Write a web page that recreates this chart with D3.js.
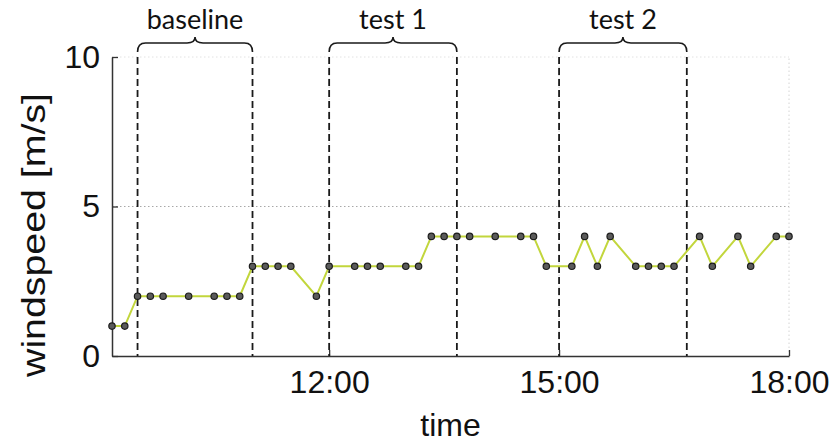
<!DOCTYPE html>
<html>
<head>
<meta charset="utf-8">
<script src="https://cdn.jsdelivr.net/npm/d3@7"></script>
<style>
  html, body { margin: 0; padding: 0; background: #ffffff; }
  svg { display: block; }
</style>
</head>
<body>
<script>
// Wind speed readings, one every ten minutes (some samples missing)
const sampleTimes = [
  "9:10", "9:20", "9:30", "9:40", "9:50", "10:10", "10:30", "10:40", "10:50",
  "11:00", "11:10", "11:20", "11:30", "11:50", "12:00", "12:20", "12:30", "12:40",
  "13:00", "13:10", "13:20", "13:30", "13:40", "13:50", "14:10", "14:30", "14:40",
  "14:50", "15:10", "15:20", "15:30", "15:40", "16:00", "16:10", "16:20", "16:30",
  "16:50", "17:00", "17:20", "17:30", "17:50", "18:00"
];
const windSpeeds = [
  1, 1, 2, 2, 2, 2, 2, 2, 2,
  3, 3, 3, 3, 2, 3, 3, 3, 3,
  3, 3, 4, 4, 4, 4, 4, 4, 4,
  3, 3, 4, 3, 4, 3, 3, 3, 3,
  4, 3, 4, 3, 4, 4
];

// Measurement windows
const periodNames = ["baseline", "test 1", "test 2"];
const periodStarts = ["9:30", "12:00", "15:00"];
const periodEnds = ["11:00", "13:40", "16:40"];

const xTickLabels = ["12:00", "15:00", "18:00"];
const yTickValues = [0, 5, 10];
const timeDomain = ["9:10", "18:00"];

const parseT = d3.timeParse("%H:%M");
const W = 837, H = 447;
const margin = { left: 112, right: 48, top: 57, bottom: 91 };

const svg = d3.select("body").append("svg")
  .attr("width", W).attr("height", H);

const x = d3.scaleTime()
  .domain(timeDomain.map(parseT))
  .range([margin.left, W - margin.right]);
const y = d3.scaleLinear()
  .domain([0, 10])
  .range([H - margin.bottom, margin.top]);

const x0 = x.range()[0], x1 = x.range()[1];
const y0 = y.range()[0], y1 = y.range()[1];

// dotted grid
const grid = svg.append("g")
  .attr("stroke-width", 1)
  .attr("stroke-dasharray", "1.5,2.5");
grid.selectAll("line.gy").data(yTickValues.filter(v => v > 0)).join("line")
  .attr("x1", x0).attr("x2", x1)
  .attr("y1", d => y(d)).attr("y2", d => y(d))
  .attr("stroke", d => d === 10 ? "#e2e2e2" : "#a8a8a8");
grid.selectAll("line.gx").data(xTickLabels).join("line")
  .attr("x1", d => x(parseT(d))).attr("x2", d => x(parseT(d)))
  .attr("y1", y0).attr("y2", y1)
  .attr("stroke", "#d4d4d4");

// axes (ticks point inward)
const fontAxis = "'Liberation Sans', Arial, sans-serif";
const yAxis = svg.append("g")
  .attr("transform", `translate(${x0},0)`)
  .call(d3.axisLeft(y).tickValues(yTickValues).tickSizeInner(-6).tickSizeOuter(0).tickPadding(12));
const xAxis = svg.append("g")
  .attr("transform", `translate(0,${y0})`)
  .call(d3.axisBottom(x).tickValues(xTickLabels.map(parseT))
    .tickFormat(d3.timeFormat("%H:%M")).tickSizeInner(-6).tickSizeOuter(0).tickPadding(14));
[xAxis, yAxis].forEach(g => {
  g.select(".domain").attr("stroke", "#333").attr("stroke-width", 1.5);
  g.selectAll(".tick line").attr("stroke", "#333").attr("stroke-width", 1.3);
  g.selectAll(".tick text")
    .attr("fill", "#111")
    .style("font-family", fontAxis)
    .style("font-size", "32px");
});
xAxis.selectAll(".tick text").attr("dy", "0.71em");

// axis titles
svg.append("text")
  .attr("x", (x0 + x1) / 2).attr("y", 436)
  .attr("text-anchor", "middle")
  .style("font-family", fontAxis).style("font-size", "32px")
  .attr("fill", "#111")
  .text("time");
svg.append("text")
  .attr("transform", `translate(45,235) rotate(-90)`)
  .attr("text-anchor", "middle")
  .attr("textLength", 284).attr("lengthAdjust", "spacingAndGlyphs")
  .style("font-family", fontAxis).style("font-size", "34px")
  .attr("fill", "#111")
  .text("windspeed [m/s]");

// measurement window boundaries
const bounds = periodStarts.concat(periodEnds);
svg.append("g").selectAll("line").data(bounds).join("line")
  .attr("x1", d => x(parseT(d))).attr("x2", d => x(parseT(d)))
  .attr("y1", y1).attr("y2", y0)
  .attr("stroke", "#1a1a1a").attr("stroke-width", 1.8)
  .attr("stroke-dasharray", "7,4");

// braces and labels over each window
const braceTop = 37, braceMid = 43, braceEnd = 52, r = 8;
function bracePath(a, b) {
  const m = (a + b) / 2;
  return `M${a},${braceEnd} Q${a},${braceMid} ${a + r},${braceMid}` +
    ` L${m - r},${braceMid} Q${m},${braceMid} ${m},${braceTop}` +
    ` Q${m},${braceMid} ${m + r},${braceMid}` +
    ` L${b - r},${braceMid} Q${b},${braceMid} ${b},${braceEnd}`;
}
const braces = svg.append("g");
periodNames.forEach((name, i) => {
  const a = x(parseT(periodStarts[i])), b = x(parseT(periodEnds[i]));
  braces.append("path")
    .attr("d", bracePath(a, b))
    .attr("fill", "none").attr("stroke", "#1a1a1a").attr("stroke-width", 1.6);
  braces.append("text")
    .attr("x", (a + b) / 2).attr("y", 29)
    .attr("text-anchor", "middle")
    .style("font-family", "Lato, 'Open Sans', sans-serif")
    .style("font-size", "27px")
    .attr("fill", "#111")
    .text(name);
});

// series
const pts = sampleTimes.map((t, i) => ({ t: parseT(t), v: windSpeeds[i] }));
svg.append("path")
  .datum(pts)
  .attr("fill", "none")
  .attr("stroke", "#c2d63c").attr("stroke-width", 2)
  .attr("d", d3.line().x(d => x(d.t)).y(d => y(d.v)));
svg.append("g").selectAll("circle").data(pts).join("circle")
  .attr("cx", d => x(d.t)).attr("cy", d => y(d.v))
  .attr("r", 3.2)
  .attr("fill", "#5a5a5a").attr("stroke", "#1c1c1c").attr("stroke-width", 1.2);
</script>
</body>
</html>
